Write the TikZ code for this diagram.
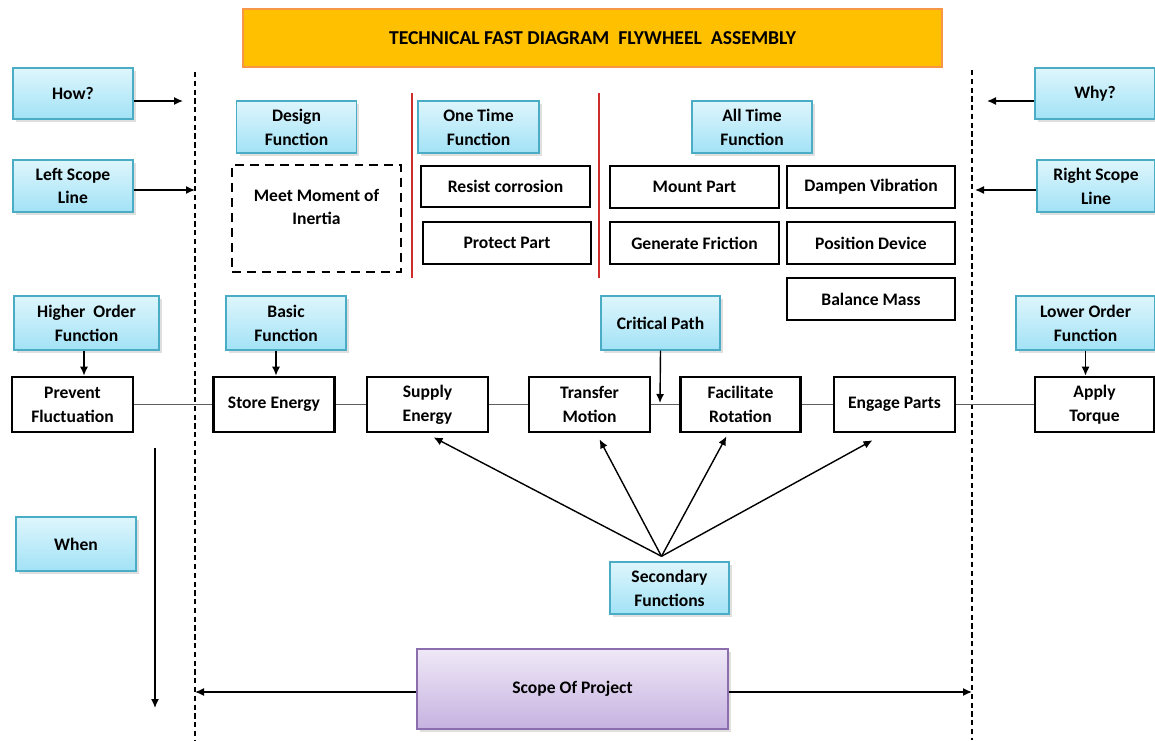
\documentclass[tikz,border=0pt]{standalone}
\usepackage{fontspec}
\setmainfont{Carlito}
\usepackage{tikz}
\usetikzlibrary{positioning, calc, arrows.meta, shadows}
\definecolor{fsCyanTop}{RGB}{222, 246, 252}
\definecolor{fsCyanBot}{RGB}{162, 226, 246}
\definecolor{fsCyanLine}{RGB}{75, 172, 198}
\definecolor{fsLilacTop}{RGB}{239, 232, 247}
\definecolor{fsLilacBot}{RGB}{198, 178, 224}
\definecolor{fsLilacLine}{RGB}{140, 110, 175}
\definecolor{fsOrange}{RGB}{255, 192, 0}
\definecolor{fsOrangeLine}{RGB}{247, 150, 70}
\definecolor{fsRed}{RGB}{205, 45, 45}
\definecolor{fsGray}{RGB}{95, 95, 95}
\tikzset{
    base/.style={
        font=\fontsize{10}{13.6}\selectfont\bfseries,
        align=center
    },
    tag/.style={
        base,
        rectangle,
        draw=fsCyanLine,
        line width=0.8pt,
        top color=fsCyanTop,
        bottom color=fsCyanBot,
        minimum width=2.4cm,
        minimum height=1.04cm,
        inner sep=1mm,
        drop shadow={opacity=0.25, shadow xshift=0.6mm, shadow yshift=-0.6mm}
    },
    scopebox/.style={
        base,
        rectangle,
        draw=fsLilacLine,
        line width=0.8pt,
        top color=fsLilacTop,
        bottom color=fsLilacBot,
        minimum width=6.22cm,
        minimum height=1.6cm,
        drop shadow={opacity=0.25, shadow xshift=0.6mm, shadow yshift=-0.6mm}
    },
    titlebox/.style={
        base,
        font=\fontsize{11.2}{13.6}\selectfont\bfseries,
        rectangle,
        draw=fsOrangeLine,
        line width=1.2pt,
        fill=fsOrange,
        minimum width=13.98cm,
        minimum height=1.16cm
    },
    func/.style={
        base,
        rectangle,
        draw=black,
        line width=1.5pt,
        fill=white,
        minimum width=2.42cm,
        minimum height=1.1cm,
        inner sep=1mm
    },
    task/.style={
        func,
        minimum width=3.38cm,
        minimum height=0.84cm
    },
    dashbox/.style={
        draw=black,
        line width=1.5pt,
        dash pattern=on 5pt off 3.5pt,
        minimum width=3.38cm,
        minimum height=2.14cm
    },
    link/.style={
        draw=fsGray,
        line width=1pt
    },
    arr/.style={
        -{Latex[length=1.8mm, width=1.6mm]},
        line width=0.8pt,
        black
    },
    scopeline/.style={
        black,
        line width=0.6pt,
        dash pattern=on 3pt off 2pt
    },
    divider/.style={
        fsRed,
        line width=0.7pt
    }
}

\begin{document}
\begin{tikzpicture}[x=0.02cm, y=-0.02cm]
  \useasboundingbox (0,0) rectangle (1155,740);

  \node[titlebox] (title) at (592.5,38) {TECHNICAL FAST DIAGRAM\ \ FLYWHEEL\ \ ASSEMBLY};

  % scope lines and dividers
  \coordinate (lscope) at (195,72);
  \coordinate (lscopeend) at (195,740);
  \coordinate (rscope) at (972,70);
  \coordinate (rscopeend) at (972,740);
  \draw[scopeline] (lscope) -- (lscopeend);
  \draw[scopeline] (rscope) -- (rscopeend);
  \coordinate (diva) at (412,93);
  \coordinate (divaend) at (412,278);
  \coordinate (divb) at (599,93);
  \coordinate (divbend) at (599,278);
  \draw[divider] (diva) -- (divaend);
  \draw[divider] (divb) -- (divbend);

  % labels
  \node[tag, minimum height=1.02cm] (how) at (73,93.5) {How?};
  \node[tag] (lsl) at (73,186) {Left Scope\\Line};
  \node[tag] (dsf) at (296.5,127) {Design\\Function};
  \node[tag, minimum width=2.42cm] (otf) at (478.5,127) {One Time\\Function};
  \node[tag] (atf) at (752,127) {All Time\\Function};
  \node[tag, minimum height=1.02cm] (why) at (1095,93.5) {Why?};
  \node[tag, minimum width=2.36cm] (rsl) at (1096,186) {Right Scope\\Line};
  \node[tag, minimum width=2.9cm, minimum height=1.08cm] (hof) at (86.5,323) {Higher\ \ Order\\Function};
  \node[tag, minimum height=1.08cm] (bsf) at (286,323) {Basic\\Function};
  \node[tag, minimum width=2.38cm, minimum height=1.08cm] (crp) at (660.5,323) {Critical Path};
  \node[tag, minimum width=2.78cm, minimum height=1.08cm] (lof) at (1085.5,323) {Lower Order\\Function};
  \node[tag, minimum height=1.08cm] (whn) at (76,544) {When};
  \node[tag, minimum width=2.38cm] (sec) at (669.5,588) {Secondary\\Functions};
  \node[scopebox] (sop) at (572.5,689) {Scope Of Project};

  % functions
  \node[dashbox] (mmi) at (316.5,218.5) {};
  \node[base] (mmitext) at (316.5,207) {Meet Moment of\\Inertia};
  \node[task, minimum height=0.82cm] (rsc) at (505.5,186.5) {Resist corrosion};
  \node[task, minimum width=3.36cm] (prp) at (507,243) {Protect Part};
  \node[task] (mtp) at (694.5,187) {Mount Part};
  \node[task] (gnf) at (694.5,243) {Generate Friction};
  \node[task, minimum width=3.36cm] (dmv) at (871,187) {Dampen Vibration};
  \node[task, minimum width=3.36cm] (psd) at (871,243) {Position Device};
  \node[task, minimum width=3.36cm] (blm) at (871,299) {Balance Mass};

  \node[func] (prf) at (72.5,404.5) {Prevent\\Fluctuation};
  \node[func] (ste) at (274,404.5) {Store Energy};
  \node[func] (sup) at (427.5,404.5) {Supply\\Energy};
  \node[func] (trm) at (589.5,404.5) {Transfer\\Motion};
  \node[func, minimum width=2.4cm] (fac) at (740.5,404.5) {Facilitate\\Rotation};
  \node[func] (eng) at (894.5,404.5) {Engage Parts};
  \node[func, minimum width=2.38cm] (apt) at (1094.5,404.5) {Apply\\Torque};

  \draw[link] (prf) -- (ste) -- (sup) -- (trm) -- (fac) -- (eng) -- (apt);

  % arrows
  \coordinate (howtip) at (183,101);
  \coordinate (lsltip) at (195,190);
  \coordinate (whytip) at (987,101);
  \coordinate (rsltip) at (975,190);
  \draw[arr] (how.east |- howtip) -- (howtip);
  \draw[arr] (lsl.east |- lsltip) -- (lsltip);
  \draw[arr] (why.west |- whytip) -- (whytip);
  \draw[arr] (rsl.west |- rsltip) -- (rsltip);

  \draw[arr] ([xshift=-0.05cm]hof.south) -- ([xshift=-0.05cm]hof.south |- prf.north);
  \draw[arr] ([xshift=-0.2cm]bsf.south) -- ([xshift=-0.2cm]bsf.south |- ste.north);
  \draw[arr] (lof.south) -- (lof.south |- apt.north);
  \coordinate (crptip) at (660,403);
  \draw[arr] (crp.south) -- (crptip);

  \coordinate (secapex) at ($(sec.north)+(-8,-5)$);
  \draw[arr] (secapex) -- ($(sup.south)+(6,4)$);
  \draw[arr] (secapex) -- ($(trm.south)+(10,6)$);
  \draw[arr] (secapex) -- ($(fac.south)+(-14,3)$);
  \draw[arr] (secapex) -- ($(eng.south)+(-22,7)$);

  \coordinate (whentop) at (155,448);
  \coordinate (whenend) at (155,708);
  \draw[arr] (whentop) -- (whenend);

  \draw[arr] ([yshift=-0.06cm]sop.west) -- ([yshift=-0.06cm]sop.west -| lscope);
  \draw[arr] ([yshift=-0.06cm]sop.east) -- ([yshift=-0.06cm]sop.east -| rscope);
\end{tikzpicture}
\end{document}
